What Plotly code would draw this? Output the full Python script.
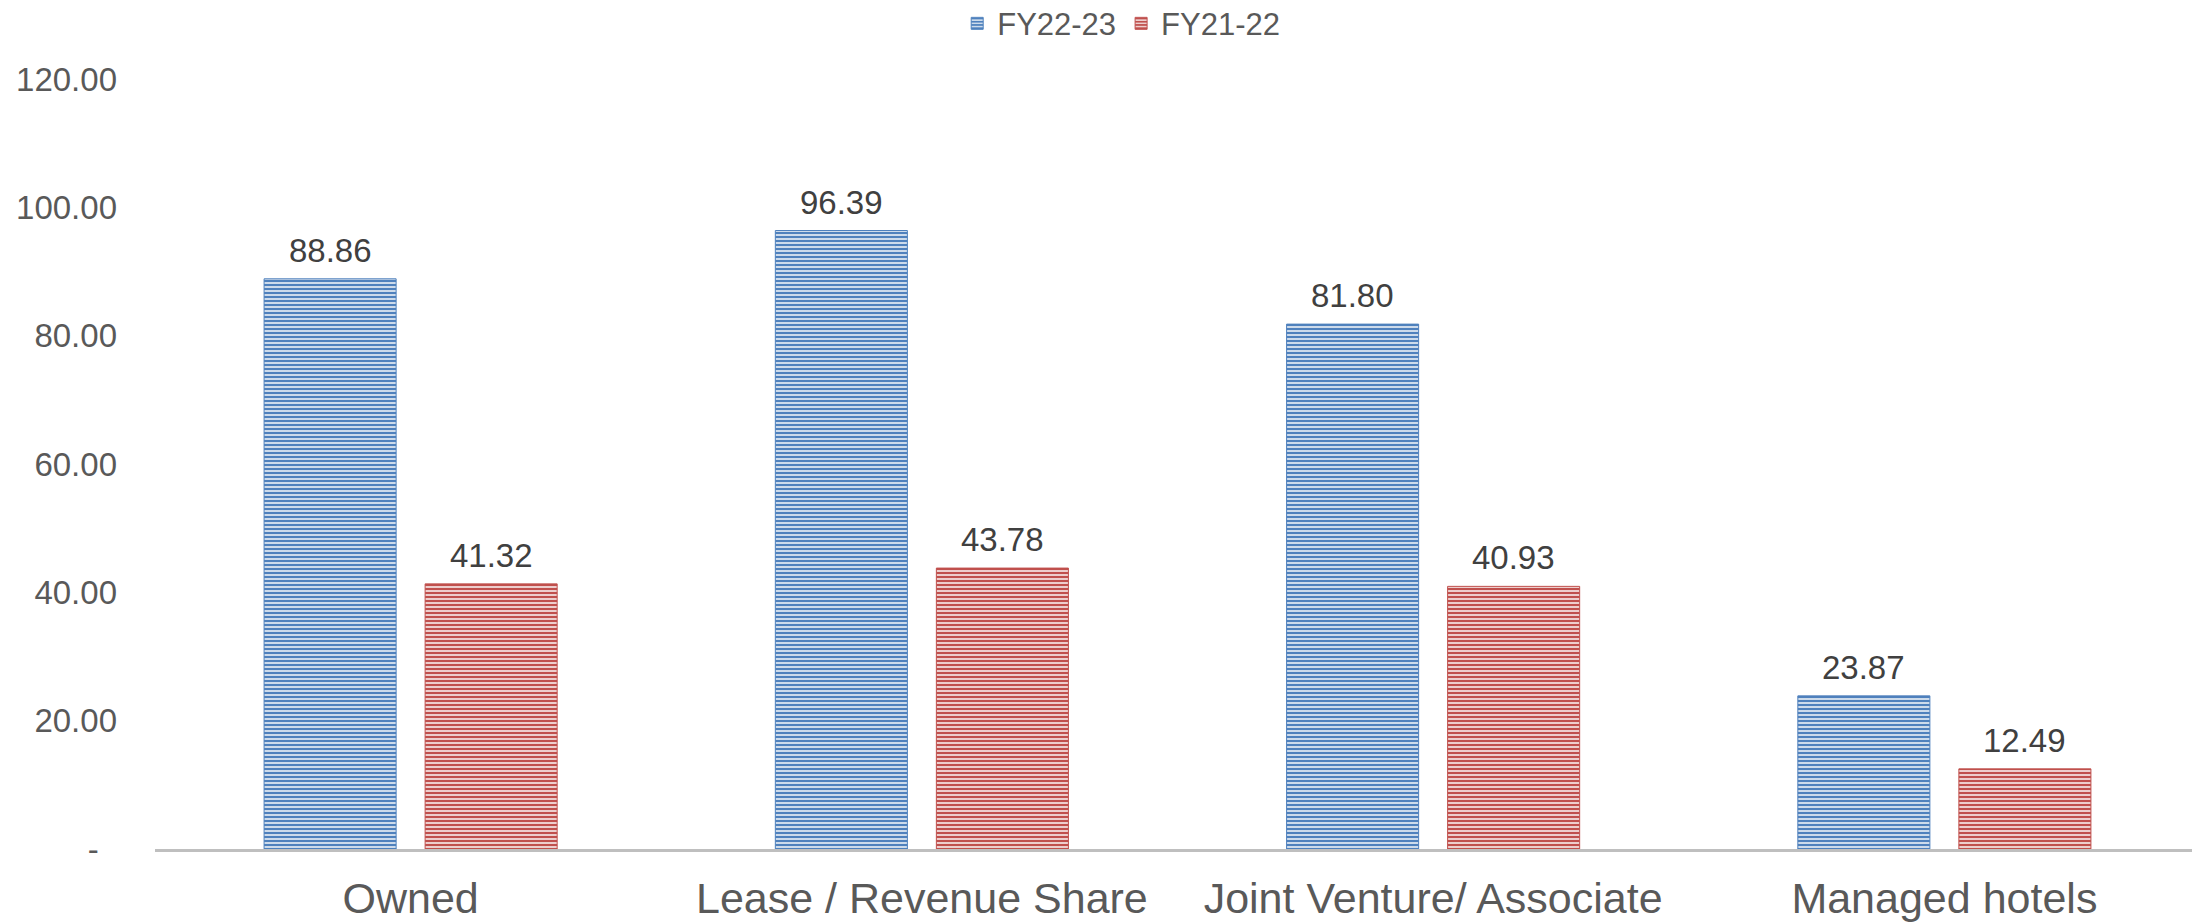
import plotly.graph_objects as go

categories = ["Owned", "Lease / Revenue Share", "Joint Venture/ Associate", "Managed hotels"]
fy22_23 = [88.86, 96.39, 81.80, 23.87]
fy21_22 = [41.32, 43.78, 40.93, 12.49]
tick_vals = [0, 20, 40, 60, 80, 100, 120]
tick_text = ["-\u00a0\u00a0", "20.00", "40.00", "60.00", "80.00", "100.00", "120.00"]

series = [
    ("FY22-23", fy22_23, "#4f81bd", "#dbe5f1", -80.5),
    ("FY21-22", fy21_22, "#c0504d", "#f2dcdb", 80.5),
]

FONT = "Liberation Sans, Arial, sans-serif"

fig = go.Figure()
for name, vals, fg, bg, xs in series:
    fig.add_trace(go.Bar(
        name=name, x=categories, y=vals,
        marker=dict(color=bg, line=dict(color=fg, width=1),
                    pattern=dict(shape="-", fgcolor=fg, bgcolor=bg, size=4,
                                 solidity=0.55, fillmode="replace")),
    ))
    for c, v in zip(categories, vals):
        fig.add_annotation(x=c, y=v, text=f"{v:.2f}", showarrow=False,
                           xshift=xs, yshift=8, yanchor="bottom",
                           font=dict(size=33, color="#404040", family=FONT))

fig.update_layout(
    width=2200, height=924,
    paper_bgcolor="white", plot_bgcolor="white",
    margin=dict(l=147, r=8, t=71, b=83),
    barmode="group", bargap=0.37, bargroupgap=0.18,
    font=dict(family=FONT, color="#595959"),
    legend=dict(orientation="h", xref="container", yref="container",
                x=0.506, y=0.983, xanchor="center", yanchor="middle",
                font=dict(size=31, color="#595959"),
                traceorder="normal"),
    showlegend=True,
)
fig.update_xaxes(showline=True, linecolor="#bfbfbf", linewidth=3,
                 tickfont=dict(size=43, color="#595959"), ticks="",
                 showgrid=False, automargin=False, ticklabelstandoff=9)
fig.update_yaxes(range=[0, 120], tickvals=tick_vals, ticktext=tick_text,
                 showgrid=False, zeroline=False, showline=False, automargin=False,
                 tickfont=dict(size=33, color="#595959"), ticklabelstandoff=37)

fig.write_html("out.html")
